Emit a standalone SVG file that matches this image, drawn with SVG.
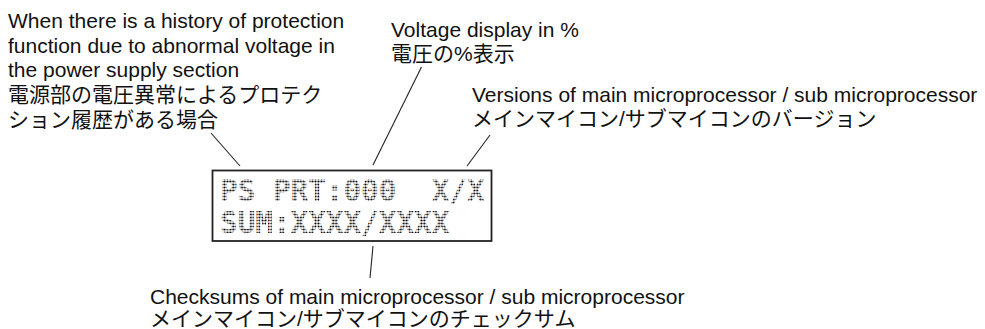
<svg xmlns="http://www.w3.org/2000/svg" width="985" height="329" viewBox="0 0 985 329">
<style>
.lbl{font-family:"Liberation Sans","Noto Sans CJK JP",Arial,sans-serif;font-size:21px;fill:#111}
.lead{stroke:#222;stroke-width:1.1;fill:none}
.lcd{font-family:"DejaVu Sans Mono","Liberation Mono",monospace;font-size:29.3px;font-weight:bold;fill:url(#dots)}
</style>
<defs>
<pattern id="dots" patternUnits="userSpaceOnUse" x="220" y="0" width="2.94" height="3">
<circle cx="1.47" cy="1.5" r="1.1" fill="#000"/>
</pattern>
</defs>
<g id="label-protection">
<text class="lbl" x="8" y="27.5">When there is a history of protection</text>
<text class="lbl" x="8" y="52.5">function due to abnormal voltage in</text>
<text class="lbl" x="8" y="77">the power supply section</text>
<text class="lbl" x="8" y="102">電源部の電圧異常によるプロテク</text>
<text class="lbl" x="8" y="126.5">ション履歴がある場合</text>
</g>
<g id="label-voltage">
<text class="lbl" x="391" y="36.5">Voltage display in %</text>
<text class="lbl" x="391" y="61">電圧の%表示</text>
</g>
<g id="label-versions">
<text class="lbl" x="472" y="101.5">Versions of main microprocessor / sub microprocessor</text>
<text class="lbl" x="472" y="126">メインマイコン/サブマイコンのバージョン</text>
</g>
<g id="label-checksums">
<text class="lbl" x="150" y="304">Checksums of main microprocessor / sub microprocessor</text>
<text class="lbl" x="150" y="325.5">メインマイコン/サブマイコンのチェックサム</text>
</g>
<g id="lcd">
<rect x="212.5" y="170.5" width="279" height="70.5" fill="#fff" stroke="#222" stroke-width="1.8"/>
<text class="lcd" x="220" y="201" xml:space="preserve">PS PRT:000  X/X</text>
<text class="lcd" x="220" y="233">SUM:XXXX/XXXX</text>
</g>
<g id="connectors">
<line class="lead" x1="211" y1="133" x2="240" y2="166"/>
<line class="lead" x1="421.5" y1="67" x2="373" y2="165"/>
<line class="lead" x1="490" y1="135" x2="467" y2="166"/>
<line class="lead" x1="373" y1="246" x2="370" y2="278"/>
</g>
</svg>
